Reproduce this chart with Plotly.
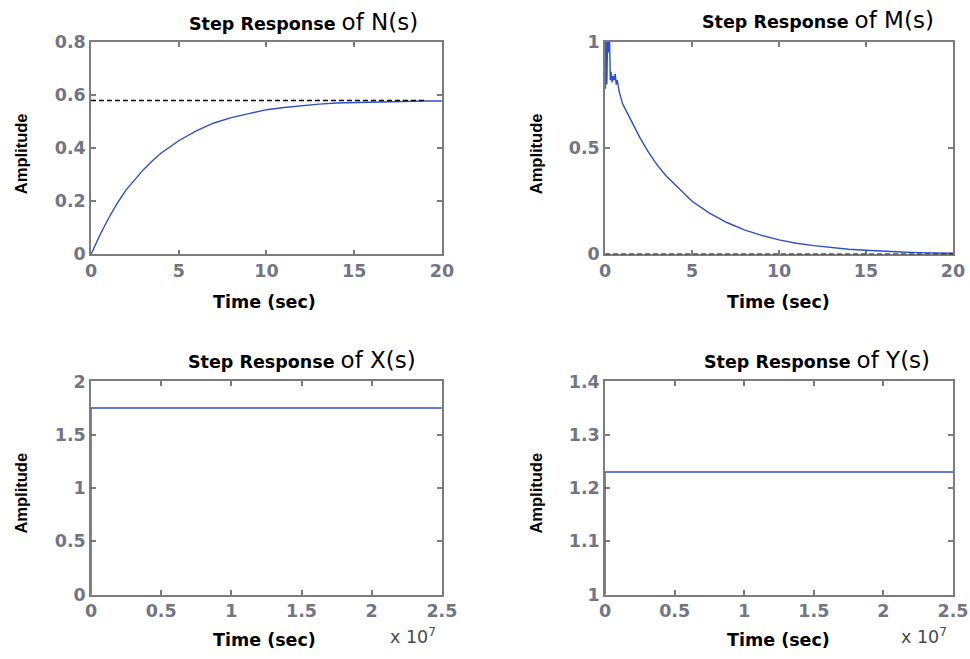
import plotly.graph_objects as go

W, H = 970, 659

# ---- data ----
n_t = [0, 0.25, 0.5, 1, 1.5, 2, 2.5, 3, 3.5, 4, 5, 6, 7, 8, 9, 10, 11, 12, 13, 14, 15, 16, 17, 18, 19, 20]
n_v = [0, 0.037, 0.072, 0.136, 0.193, 0.243, 0.283, 0.32, 0.353, 0.382, 0.428, 0.465, 0.495, 0.515,
       0.53, 0.545, 0.553, 0.56, 0.566, 0.57, 0.572, 0.574, 0.576, 0.577, 0.578, 0.578]
n_final = 0.58
n_final_t = [0, 19]

m_t = [0, 0.02, 0.06, 0.1, 0.14, 0.18, 0.22, 0.26, 0.30, 0.34, 0.40, 0.46, 0.52, 0.58, 0.64, 0.70,
       0.8, 1.0, 1.25, 1.5, 2, 2.5, 3, 3.5, 4, 5, 6, 7, 8, 9, 10, 11, 12, 13, 14, 15, 16, 17, 18, 19, 20]
m_v = [1.0, 0.78, 1.0, 0.80, 1.0, 0.95, 1.0, 1.0, 0.82, 0.86, 0.81, 0.84, 0.82, 0.85, 0.80, 0.82,
       0.77, 0.71, 0.67, 0.63, 0.55, 0.48, 0.42, 0.37, 0.33, 0.25, 0.194, 0.15, 0.115, 0.089, 0.068,
       0.052, 0.041, 0.031, 0.024, 0.019, 0.014, 0.011, 0.008, 0.007, 0.005]
m_final = 0.0
m_final_t = [0, 20]

x_t = [0, 0, 2.5e7]
x_v = [0, 1.75, 1.75]

y_t = [0, 0, 2.5e7]
y_v = [1.0, 1.23, 1.23]

big_ticks = [0, 0.5e7, 1e7, 1.5e7, 2e7, 2.5e7]
big_tick_text = ["0", "0.5", "1", "1.5", "2", "2.5"]

titles = ["N(s)", "M(s)", "X(s)", "Y(s)"]

# ---- layout geometry (page pixels) ----
def px_x(a, b):
    return [a / W, min(b / W, 1.0)]

def px_y(top, bottom):
    return [1 - bottom / H, 1 - top / H]

BLUE = "#2f4fc8"
FRAME = "#7d7d7d"
TICKC = "#737585"
WIDE = "DejaVu Sans, Verdana, sans-serif"
NARROW = "Liberation Sans, Arial, sans-serif"

fig = go.Figure()

def line_trace(x, y, xa, ya, color=BLUE, width=1.4, dash="solid"):
    fig.add_trace(go.Scatter(x=x, y=y, mode="lines", line=dict(color=color, width=width, dash=dash),
                             xaxis=xa, yaxis=ya, showlegend=False, cliponaxis=False,
                             hoverinfo="skip"))

line_trace(n_t, n_v, "x", "y")
line_trace(n_final_t, [n_final] * 2, "x", "y", color="black", width=1.5, dash="5px,3px")
line_trace(m_t, m_v, "x2", "y2")
line_trace(m_final_t, [m_final] * 2, "x2", "y2", color="black", width=1.5, dash="5px,3px")
line_trace(x_t, x_v, "x3", "y3")
line_trace(y_t, y_v, "x4", "y4")

axis_common = dict(showline=True, mirror="ticks", linecolor=FRAME, linewidth=1.6,
                   ticks="inside", ticklen=5, tickcolor=FRAME, tickwidth=1.5,
                   showgrid=False, zeroline=False, layer="below traces",
                   tickfont=dict(family=WIDE, size=17.5, color=TICKC, weight="bold"))

L1, R1 = 87, 446
L2, R2 = 613, 969
T1, B1 = 33, 252
T2, B2 = 383, 603

fig.update_layout(
    width=W, height=H, margin=dict(l=0, r=0, t=0, b=0),
    paper_bgcolor="white", plot_bgcolor="white",
    xaxis=dict(domain=px_x(L1, R1), anchor="y", range=[0, 20], tickvals=[0, 5, 10, 15, 20], **axis_common),
    yaxis=dict(domain=px_y(T1, B1), anchor="x", range=[0, 0.8], tickvals=[0, 0.2, 0.4, 0.6, 0.8], **axis_common),
    xaxis2=dict(domain=px_x(L2, R2), anchor="y2", range=[0, 20], tickvals=[0, 5, 10, 15, 20], **axis_common),
    yaxis2=dict(domain=px_y(T1, B1), anchor="x2", range=[0, 1], tickvals=[0, 0.5, 1], **axis_common),
    xaxis3=dict(domain=px_x(L1, R1), anchor="y3", range=[0, 2.5e7], tickvals=big_ticks,
                ticktext=big_tick_text, **axis_common),
    yaxis3=dict(domain=px_y(T2, B2), anchor="x3", range=[0, 2], tickvals=[0, 0.5, 1, 1.5, 2], **axis_common),
    xaxis4=dict(domain=px_x(L2, R2), anchor="y4", range=[0, 2.5e7], tickvals=big_ticks,
                ticktext=big_tick_text, **axis_common),
    yaxis4=dict(domain=px_y(T2, B2), anchor="x4", range=[1, 1.4], tickvals=[1, 1.1, 1.2, 1.3, 1.4], **axis_common),
)

def ann(x, y, text, size=15, angle=0, color="black", bold=True, family=WIDE, yanchor="middle"):
    fig.add_annotation(x=x / W, y=1 - y / H, xref="paper", yref="paper", text=text,
                       showarrow=False, textangle=angle, xanchor="center", yanchor=yanchor,
                       font=dict(family=family, size=size, color=color,
                                 weight="bold" if bold else "normal"))

def title_text(name):
    return ("<span style='font-size:17.5px;font-weight:bold'>Step Response </span>"
            "<span style='font-size:23px'>of " + name + "</span>")

ann(304, 12, title_text(titles[0]), size=23, bold=False)
ann(831, 10, title_text(titles[1]), size=23, bold=False)
ann(303, 361, title_text(titles[2]), size=23, bold=False)
ann(830, 361, title_text(titles[3]), size=23, bold=False)

for (ax_x, ax_y) in [(15, 148), (542, 148), (15, 498), (542, 498)]:
    ann(ax_x, ax_y, "Amplitude", size=16.5, angle=-90, family=NARROW)

for (tx, ty) in [(264, 301), (790, 301), (264, 650), (790, 650)]:
    ann(tx, ty, "Time (sec)", size=17.5)

ann(416, 659, "x 10<sup>7</sup>", size=17.5, color="#4a4a4a", bold=False, yanchor="bottom")
ann(939, 659, "x 10<sup>7</sup>", size=17.5, color="#4a4a4a", bold=False, yanchor="bottom")

fig.write_html("out.html", config={"displayModeBar": False},
               post_script="document.body.style.margin='0';document.body.style.overflow='hidden';")
